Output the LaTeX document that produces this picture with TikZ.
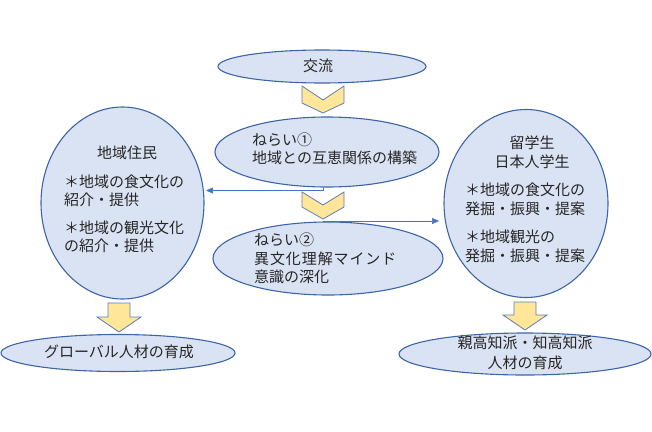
\documentclass[tikz,border=0pt]{standalone}
\usepackage{fontspec}
\newfontfamily\jp{Noto Sans CJK JP}
\usetikzlibrary{shapes.geometric,arrows.meta}
\definecolor{efill}{HTML}{DAE3F3}
\definecolor{edraw}{HTML}{3D64A8}
\definecolor{cfill}{HTML}{FFE699}
\definecolor{cdraw}{HTML}{5A7DB5}
\definecolor{ldraw}{HTML}{4472C4}
\definecolor{tcol}{HTML}{262626}
\tikzset{
  oval/.style={ellipse,draw=edraw,fill=efill,line width=1.1pt,inner sep=0pt},
  chev/.style={draw=cdraw,fill=cfill,line width=0.8pt,line join=miter},
  txt/.style={inner sep=0pt,text=tcol,font=\jp\fontsize{15}{18}\selectfont},
  ltxt/.style={txt,anchor=west},
  thinarrow/.style={draw=ldraw,line width=0.6pt,-{Triangle[length=7pt,width=6pt]}}
}
\begin{document}
\begin{tikzpicture}[x=1pt,y=-1pt]
\useasboundingbox (0,0) rectangle (652,431);
% ovals
\node[oval,minimum width=208,minimum height=33] (koryu) at (322,66.5) {};
\node[oval,minimum width=224,minimum height=70] (nerai1) at (327,152) {};
\node[oval,minimum width=230,minimum height=73] (nerai2) at (328,258.5) {};
\node[oval,minimum width=163,minimum height=192] (left) at (122.5,203) {};
\node[oval,minimum width=164,minimum height=188] (right) at (526,203.5) {};
\node[oval,minimum width=234,minimum height=37] (lbot) at (118,353) {};
\node[oval,minimum width=252,minimum height=42] (rbot) at (525,354) {};
% chevrons
\draw[chev] (302,86) -- (323,100) -- (344,86) -- (344,103) -- (323,113) -- (302,103) -- cycle;
% connectors
\coordinate (c1) at (206,190.5);
\coordinate (c2a) at (323,221);
\coordinate (c2) at (439,221);
\draw[thinarrow] (nerai1.south -| c2a) |- (c1);
\draw[chev] (302,192) -- (323,205) -- (344,192) -- (344,207) -- (323,219) -- (302,207) -- cycle;
\draw[thinarrow] (c2a) -- (c2);
% block arrows
\draw[chev] (108,303) -- (130,303) -- (130,317) -- (141,317) -- (119,332) -- (97,317) -- (108,317) -- cycle;
\draw[chev] (514,302) -- (536,302) -- (536,315) -- (547,315) -- (525,330) -- (503,315) -- (514,315) -- cycle;
% texts
\node[txt] (t0) at (318,65.5) {交流};
\node[ltxt] (t1a) at (252,140) {ねらい①};
\node[ltxt] (t1b) at (252,157.5) {地域との互恵関係の構築};
\node[ltxt] (t2a) at (254,240) {ねらい②};
\node[ltxt] (t2b) at (254,258.5) {\addfontfeature{LetterSpace=6}異文化理解マインド};
\node[ltxt] (t2c) at (254,277) {意識の深化};
\node[txt] (l0) at (127,153) {地域住民};
\node[ltxt] (l1) at (64,182) {＊地域の食文化の};
\node[ltxt] (l2) at (64,199.5) {紹介・提供};
\node[ltxt] (l3) at (64,228) {＊地域の観光文化};
\node[ltxt] (l4) at (64,246) {の紹介・提供};
\node[txt] (r0) at (532,143) {留学生};
\node[txt] (r1) at (532,162) {日本人学生};
\node[ltxt] (r2) at (465,190) {＊地域の食文化の};
\node[ltxt] (r3) at (465,208.5) {発掘・振興・提案};
\node[ltxt] (r4) at (465,237) {＊地域観光の};
\node[ltxt] (r5) at (465,255.5) {発掘・振興・提案};
\node[txt] (b0) at (119,352) {グローバル人材の育成};
\node[txt] (b1) at (525,343) {親高知派・知高知派};
\node[txt] (b2) at (525,363) {人材の育成};
\end{tikzpicture}
\end{document}
